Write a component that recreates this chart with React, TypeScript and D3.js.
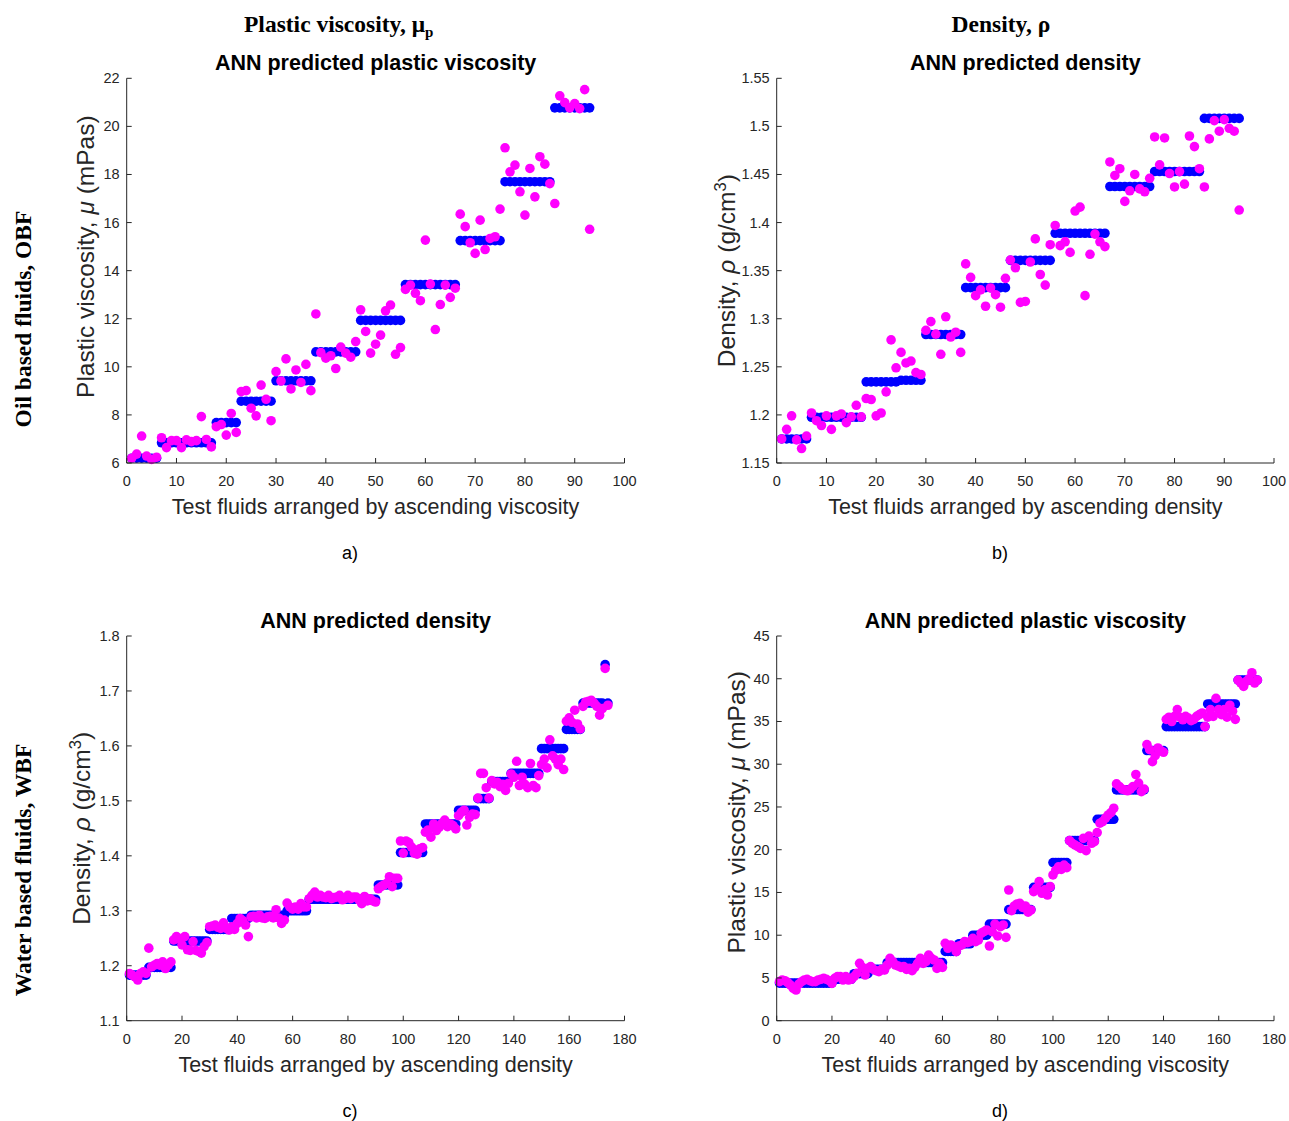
import React from 'react';
import * as d3 from 'd3';

const W = 1289;
const H = 1121;

const SANS = '"Liberation Sans", Arial, Helvetica, sans-serif';
const SERIF = '"Liberation Serif", "Times New Roman", serif';
const BLUE = '#0000ff';
const MAGENTA = '#ff00ff';
const INK = '#262626';

// a) OBF plastic viscosity (mPas), 93 test fluids
const aActual = [
  6.2, 6.2, 6.2, 6.2, 6.2, 6.2,
  6.84, 6.84, 6.84, 6.84, 6.84, 6.84, 6.84, 6.84, 6.84, 6.84, 6.84,
  7.68, 7.68, 7.68, 7.68, 7.68,
  8.57, 8.57, 8.57, 8.57, 8.57, 8.57, 8.57,
  9.42, 9.42, 9.42, 9.42, 9.42, 9.42, 9.42, 9.42,
  10.62, 10.62, 10.62, 10.62, 10.62, 10.62, 10.62, 10.62, 10.62,
  11.93, 11.93, 11.93, 11.93, 11.93, 11.93, 11.93, 11.93, 11.93,
  13.42, 13.42, 13.42, 13.42, 13.42, 13.42, 13.42, 13.42, 13.42, 13.42, 13.42,
  15.25, 15.25, 15.25, 15.25, 15.25, 15.25, 15.25, 15.25, 15.25,
  17.7, 17.7, 17.7, 17.7, 17.7, 17.7, 17.7, 17.7, 17.7, 17.7,
  20.77, 20.77, 20.77, 20.77, 20.77, 20.77, 20.77, 20.77,
];
const aPredicted = [
  6.2, 6.37, 7.12, 6.29, 6.15, 6.24, 7.05, 6.64, 6.93, 6.93,
  6.64, 6.96, 6.89, 6.93, 7.93, 6.98, 6.67, 7.51, 7.6, 7.16,
  8.06, 7.27, 8.97, 9.01, 8.28, 7.96, 9.24, 8.65, 7.76, 9.8,
  9.41, 10.33, 9.08, 9.87, 9.35, 10.1, 9.01, 12.2, 10.59, 10.36,
  10.46, 9.93, 10.82, 10.57, 10.4, 11.05, 12.37, 11.47, 10.57, 10.94,
  11.32, 12.33, 12.57, 10.52, 10.8, 13.22, 13.4, 13.06, 12.75, 15.27,
  13.44, 11.55, 12.59, 13.4, 12.89, 13.27, 16.35, 15.83, 15.16, 14.72,
  16.1, 14.88, 15.34, 15.41, 16.56, 19.11, 18.11, 18.39, 17.28, 16.31,
  18.25, 17.07, 18.74, 18.43, 17.62, 16.79, 21.27, 20.99, 20.77, 20.95,
  20.74, 21.53, 15.72,
];

// b) OBF density (g/cm3), 93 test fluids
const bActual = [
  1.175, 1.175, 1.175, 1.175, 1.175, 1.175,
  1.1975, 1.1975, 1.1975, 1.1975, 1.1975, 1.1975, 1.1975, 1.1975, 1.1975, 1.1975, 1.1975,
  1.2344, 1.2344, 1.2344, 1.2344, 1.2344, 1.2344, 1.2344, 1.236, 1.236, 1.236, 1.236, 1.236,
  1.2836, 1.2836, 1.2836, 1.2836, 1.2836, 1.2836, 1.2836, 1.2836,
  1.3323, 1.3323, 1.3323, 1.3323, 1.3323, 1.3323, 1.3323, 1.3323, 1.3323,
  1.3607, 1.3607, 1.3607, 1.3607, 1.3607, 1.3607, 1.3607, 1.3607, 1.3607,
  1.3889, 1.3889, 1.3889, 1.3889, 1.3889, 1.3889, 1.3889, 1.3889, 1.3889, 1.3889, 1.3889,
  1.4375, 1.4375, 1.4375, 1.4375, 1.4375, 1.4375, 1.4375, 1.4375, 1.4375,
  1.4531, 1.4531, 1.4531, 1.4531, 1.4531, 1.4531, 1.4531, 1.4531, 1.4531, 1.4531,
  1.5083, 1.5083, 1.5083, 1.5083, 1.5083, 1.5083, 1.5083, 1.5083,
];
const bPredicted = [
  1.175, 1.185, 1.199, 1.174, 1.165, 1.178, 1.202, 1.194, 1.189, 1.199,
  1.185, 1.199, 1.201, 1.192, 1.198, 1.21, 1.198, 1.217, 1.216, 1.199,
  1.202, 1.224, 1.278, 1.249, 1.265, 1.254, 1.256, 1.244, 1.242, 1.288,
  1.297, 1.284, 1.263, 1.302, 1.281, 1.286, 1.265, 1.357, 1.343, 1.324,
  1.33, 1.313, 1.332, 1.325, 1.312, 1.342, 1.361, 1.353, 1.317, 1.318,
  1.359, 1.383, 1.346, 1.335, 1.377, 1.397, 1.376, 1.38, 1.369, 1.412,
  1.416, 1.324, 1.367, 1.388, 1.38, 1.375, 1.463, 1.449, 1.456, 1.422,
  1.433, 1.45, 1.435, 1.432, 1.446, 1.489, 1.46, 1.488, 1.451, 1.437,
  1.453, 1.44, 1.49, 1.479, 1.456, 1.437, 1.487, 1.506, 1.495, 1.507,
  1.498, 1.495, 1.413,
];

// c) WBF density (g/cm3), 174 test fluids
const cActual = [
  1.183, 1.183, 1.183, 1.183, 1.183, 1.183, 1.183,
  1.197, 1.197, 1.197, 1.197, 1.197, 1.197, 1.197, 1.197, 1.197,
  1.245, 1.245, 1.245, 1.245, 1.245, 1.245, 1.245, 1.245, 1.245, 1.245, 1.245, 1.245, 1.245,
  1.266, 1.266, 1.266, 1.266, 1.266, 1.266, 1.266, 1.266,
  1.286, 1.286, 1.286, 1.286, 1.286, 1.286, 1.286,
  1.292, 1.292, 1.292, 1.292, 1.292, 1.292, 1.292, 1.292, 1.292, 1.292, 1.292, 1.292, 1.292,
  1.3, 1.3, 1.3, 1.3, 1.3, 1.3, 1.3, 1.3,
  1.321, 1.321, 1.321, 1.321, 1.321, 1.321, 1.321, 1.321, 1.321, 1.321, 1.321, 1.321, 1.321,
  1.321, 1.321, 1.321, 1.321, 1.321, 1.321, 1.321, 1.321, 1.321, 1.321, 1.321, 1.321,
  1.347, 1.347, 1.347, 1.347, 1.347, 1.347, 1.347, 1.347,
  1.406, 1.406, 1.406, 1.406, 1.406, 1.406, 1.406, 1.406, 1.406,
  1.458, 1.458, 1.458, 1.458, 1.458, 1.458, 1.458, 1.458, 1.458, 1.458, 1.458, 1.458,
  1.483, 1.483, 1.483, 1.483, 1.483, 1.483, 1.483,
  1.504, 1.504, 1.504, 1.504, 1.504,
  1.535, 1.535, 1.535, 1.535, 1.535, 1.535, 1.535,
  1.55, 1.55, 1.55, 1.55, 1.55, 1.55, 1.55, 1.55, 1.55, 1.55, 1.55,
  1.595, 1.595, 1.595, 1.595, 1.595, 1.595, 1.595, 1.595, 1.595,
  1.63, 1.63, 1.63, 1.63, 1.63, 1.63,
  1.678, 1.678, 1.678, 1.678, 1.678, 1.678, 1.678, 1.678,
  1.748, 1.678,
];
const cPredicted = [
  1.186, 1.183, 1.18, 1.174, 1.186, 1.189, 1.186, 1.232, 1.198, 1.201,
  1.204, 1.201, 1.207, 1.195, 1.201, 1.207, 1.247, 1.253, 1.249, 1.238,
  1.253, 1.229, 1.228, 1.244, 1.228, 1.226, 1.223, 1.235, 1.242, 1.271,
  1.272, 1.274, 1.27, 1.268, 1.278, 1.268, 1.265, 1.271, 1.266, 1.277,
  1.286, 1.282, 1.274, 1.253, 1.289, 1.29, 1.287, 1.292, 1.287, 1.286,
  1.289, 1.29, 1.287, 1.302, 1.287, 1.277, 1.283, 1.314, 1.307, 1.303,
  1.307, 1.303, 1.313, 1.307, 1.307, 1.322, 1.328, 1.334, 1.325, 1.328,
  1.325, 1.324, 1.328, 1.322, 1.324, 1.325, 1.328, 1.32, 1.322, 1.328,
  1.322, 1.325, 1.325, 1.32, 1.313, 1.326, 1.318, 1.322, 1.318, 1.316,
  1.34, 1.344, 1.347, 1.35, 1.362, 1.344, 1.359, 1.359, 1.427, 1.405,
  1.427, 1.424, 1.416, 1.405, 1.403, 1.413, 1.415, 1.443, 1.447, 1.434,
  1.458, 1.446, 1.452, 1.459, 1.465, 1.453, 1.458, 1.455, 1.449, 1.473,
  1.479, 1.483, 1.456, 1.47, 1.476, 1.475, 1.505, 1.55, 1.55, 1.524,
  1.505, 1.537, 1.531, 1.534, 1.526, 1.53, 1.519, 1.532, 1.549, 1.543,
  1.572, 1.528, 1.543, 1.53, 1.524, 1.568, 1.528, 1.524, 1.546, 1.566,
  1.576, 1.56, 1.611, 1.582, 1.576, 1.566, 1.576, 1.557, 1.645, 1.651,
  1.643, 1.665, 1.64, 1.631, 1.672, 1.68, 1.681, 1.683, 1.678, 1.672,
  1.656, 1.668, 1.741, 1.674,
];

// d) WBF plastic viscosity (mPas), 174 test fluids
const dActual = [
  4.4, 4.4, 4.4, 4.4, 4.4, 4.4, 4.4, 4.4, 4.4, 4.4,
  4.4, 4.4, 4.4, 4.4, 4.4, 4.4, 4.4, 4.4, 4.4, 4.4,
  4.85, 4.85, 4.85, 4.85, 4.85, 4.85, 4.85,
  5.5, 5.5, 5.5, 5.5, 5.5, 5.5,
  6.0, 6.0, 6.0, 6.0, 6.0, 6.0,
  6.8, 6.8, 6.8, 6.8, 6.8, 6.8, 6.8, 6.8, 6.8, 6.8, 6.8,
  6.8, 6.8, 6.8, 6.8, 6.8, 6.8, 6.8, 6.8, 6.8, 6.8,
  8.1, 8.1, 8.1, 8.1, 8.1,
  9.0, 9.0, 9.0, 9.0, 9.0,
  10.0, 10.0, 10.0, 10.0, 10.0, 10.0,
  11.3, 11.3, 11.3, 11.3, 11.3, 11.3, 11.3,
  13.0, 13.0, 13.0, 13.0, 13.0, 13.0, 13.0, 13.0, 13.0,
  15.6, 15.6, 15.6, 15.6, 15.6, 15.6, 15.6,
  18.5, 18.5, 18.5, 18.5, 18.5, 18.5,
  21.06, 21.06, 21.06, 21.06, 21.06, 21.06, 21.06, 21.06, 21.06, 21.06,
  23.56, 23.56, 23.56, 23.56, 23.56, 23.56, 23.56,
  27.0, 27.0, 27.0, 27.0, 27.0, 27.0, 27.0, 27.0, 27.0, 27.0, 27.0,
  31.6, 31.6, 31.6, 31.6, 31.6, 31.6, 31.6,
  34.4, 34.4, 34.4, 34.4, 34.4, 34.4, 34.4, 34.4, 34.4, 34.4, 34.4, 34.4, 34.4, 34.4, 34.4,
  37.05, 37.05, 37.05, 37.05, 37.05, 37.05, 37.05, 37.05, 37.05, 37.05, 37.05,
  39.85, 39.85, 39.85, 39.85, 39.85, 39.85, 39.85, 39.85,
];
const dPredicted = [
  4.56, 4.76, 4.68, 4.45, 4.17, 3.78, 3.59, 4.29, 4.56, 4.76,
  4.84, 4.68, 4.56, 4.56, 4.76, 4.84, 4.96, 4.84, 4.68, 4.37,
  4.96, 5.15, 5.15, 4.76, 5.15, 4.76, 4.84, 5.15, 5.54, 6.71,
  6.24, 5.34, 6.12, 6.32, 6.0, 5.85, 5.73, 6.0, 5.93, 6.51,
  7.29, 6.9, 6.51, 6.39, 6.24, 6.32, 6.0, 6.12, 5.85, 6.24,
  6.71, 7.29, 6.71, 6.9, 7.68, 7.29, 7.1, 6.12, 6.71, 6.24,
  9.05, 8.47, 8.86, 8.66, 8.08, 8.74, 8.86, 9.25, 9.13, 9.25,
  9.64, 9.25, 9.44, 10.22, 10.41, 10.61, 8.74, 10.41, 11.3, 9.91,
  11.0, 11.2, 9.75, 15.29, 12.87, 13.42, 13.65, 13.73, 13.26, 13.42,
  12.7, 12.95, 15.1, 15.5, 16.27, 14.9, 15.3, 14.7, 15.68, 17.05,
  17.6, 18.0, 17.7, 18.2, 17.9, 21.06, 20.75, 20.55, 20.36, 20.16,
  21.33, 19.9, 21.6, 20.75, 20.94, 22.0, 23.1, 23.3, 23.7, 24.07,
  24.35, 24.85, 27.7, 27.4, 27.1, 27.0, 26.9, 27.1, 27.4, 28.8,
  27.8, 26.8, 27.1, 32.3, 31.7, 30.3, 31.0, 31.9, 31.6, 31.4,
  35.25, 35.5, 35.0, 35.6, 36.4, 35.5, 35.2, 35.6, 35.4, 35.1,
  35.25, 35.6, 35.8, 36.0, 34.4, 35.5, 36.4, 35.6, 37.7, 36.4,
  35.8, 36.4, 35.5, 36.9, 36.2, 35.25, 39.85, 39.5, 39.1, 39.7,
  40.0, 40.7, 39.5, 39.85,
];

const obfXTicks = d3.range(0, 101, 10);
const wbfXTicks = d3.range(0, 181, 20);
const aYTicks = d3.range(6, 22.1, 2);
const bYTicks = [1.15, 1.2, 1.25, 1.3, 1.35, 1.4, 1.45, 1.5, 1.55];
const cYTicks = [1.1, 1.2, 1.3, 1.4, 1.5, 1.6, 1.7, 1.8];
const dYTicks = d3.range(0, 46, 5);

type Box = { left: number; right: number; top: number; bottom: number };

type PanelProps = {
  box: Box;
  xMax: number;
  xTicks: number[];
  yDomain: [number, number];
  yTicks: number[];
  actual: number[];
  predicted: number[];
  title: string;
  xLabel: string;
  yLabel: React.ReactNode;
  yLabelX: number;
  yLabelShift?: number;
  caption: string;
  captionX: number;
};

function Panel(p: PanelProps) {
  const { left, right, top, bottom } = p.box;
  const x = d3.scaleLinear().domain([0, p.xMax]).range([left, right]);
  const y = d3.scaleLinear().domain(p.yDomain).range([bottom, top]);
  const cx = (left + right) / 2;
  const cy = (top + bottom) / 2 + (p.yLabelShift || 0);
  const r = 4.8;
  const tick = 5;

  return (
    <g>
      {/* measured values */}
      {p.actual.map((v, i) => (
        <circle key={'a' + i} cx={x(i + 1)} cy={y(v)} r={r} fill={BLUE} />
      ))}
      {/* ANN predictions */}
      {p.predicted.map((v, i) => (
        <circle key={'p' + i} cx={x(i + 1)} cy={y(v)} r={r} fill={MAGENTA} />
      ))}

      {/* axes, box off, ticks inward */}
      <line x1={left} x2={right} y1={bottom} y2={bottom} stroke={INK} strokeWidth={1} />
      <line x1={left} x2={left} y1={top} y2={bottom} stroke={INK} strokeWidth={1} />
      {p.xTicks.map((t) => (
        <g key={'xt' + t}>
          <line x1={x(t)} x2={x(t)} y1={bottom} y2={bottom - tick} stroke={INK} />
          <text x={x(t)} y={bottom + 23} textAnchor="middle" fontSize={14.5} fill={INK} fontFamily={SANS}>
            {t}
          </text>
        </g>
      ))}
      {p.yTicks.map((t) => (
        <g key={'yt' + t}>
          <line x1={left} x2={left + tick} y1={y(t)} y2={y(t)} stroke={INK} />
          <text x={left - 7} y={y(t) + 5} textAnchor="end" fontSize={14.5} fill={INK} fontFamily={SANS}>
            {t}
          </text>
        </g>
      ))}

      <text x={cx} y={top - 8} textAnchor="middle" fontSize={21.5} fontWeight="bold" fill="#000" fontFamily={SANS}>
        {p.title}
      </text>
      <text x={cx} y={bottom + 51} textAnchor="middle" fontSize={21.5} fill={INK} fontFamily={SANS}>
        {p.xLabel}
      </text>
      <text
        transform={`translate(${p.yLabelX},${cy}) rotate(-90)`}
        textAnchor="middle"
        fontSize={24.5}
        fill={INK}
        fontFamily={SANS}
      >
        {p.yLabel}
      </text>
      <text x={p.captionX} y={bottom + 96} textAnchor="middle" fontSize={18} fill="#000" fontFamily={SANS}>
        {p.caption}
      </text>
    </g>
  );
}

const pvLabel = (
  <>
    Plastic viscosity, <tspan fontStyle="italic">μ</tspan> (mPas)
  </>
);
const rhoLabel = (
  <>
    Density, <tspan fontStyle="italic">ρ</tspan> (g/cm<tspan dy={-9} fontSize={16.5}>3</tspan>
    <tspan dy={9}>)</tspan>
  </>
);

export default function App() {
  const topRow = { top: 78.3, bottom: 463 };
  const botRow = { top: 636, bottom: 1020.7 };
  const leftCol = { left: 126.7, right: 624.5 };
  const rightCol = { left: 776.7, right: 1274 };

  return (
    <svg
      width={W}
      height={H}
      viewBox={`0 0 ${W} ${H}`}
      style={{ position: 'absolute', left: 0, top: 0, display: 'block', background: '#fff' }}
    >
      <rect width={W} height={H} fill="#fff" />

      <text x={244} y={32} textAnchor="start" fontSize={23.5} fontWeight="bold" fontFamily={SERIF} fill="#000">
        Plastic viscosity, μ<tspan dy={5} fontSize={15}>p</tspan>
      </text>
      <text x={1001} y={32} textAnchor="middle" fontSize={23.5} fontWeight="bold" fontFamily={SERIF} fill="#000">
        Density, ρ
      </text>
      <text
        transform="translate(31,319) rotate(-90)"
        textAnchor="middle"
        fontSize={23.5}
        fontWeight="bold"
        fontFamily={SERIF}
        fill="#000"
      >
        Oil based fluids, OBF
      </text>
      <text
        transform="translate(31,870) rotate(-90)"
        textAnchor="middle"
        fontSize={23.5}
        fontWeight="bold"
        fontFamily={SERIF}
        fill="#000"
      >
        Water based fluids, WBF
      </text>

      <Panel
        box={{ ...leftCol, ...topRow }}
        xMax={100}
        xTicks={obfXTicks}
        yDomain={[6, 22]}
        yTicks={aYTicks}
        actual={aActual}
        predicted={aPredicted}
        title="ANN predicted plastic viscosity"
        xLabel="Test fluids arranged by ascending viscosity"
        yLabel={pvLabel}
        yLabelX={94}
        yLabelShift={-14}
        caption="a)"
        captionX={350}
      />
      <Panel
        box={{ ...rightCol, ...topRow }}
        xMax={100}
        xTicks={obfXTicks}
        yDomain={[1.15, 1.55]}
        yTicks={bYTicks}
        actual={bActual}
        predicted={bPredicted}
        title="ANN predicted density"
        xLabel="Test fluids arranged by ascending density"
        yLabel={rhoLabel}
        yLabelX={735}
        caption="b)"
        captionX={1000}
      />
      <Panel
        box={{ ...leftCol, ...botRow }}
        xMax={180}
        xTicks={wbfXTicks}
        yDomain={[1.1, 1.8]}
        yTicks={cYTicks}
        actual={cActual}
        predicted={cPredicted}
        title="ANN predicted density"
        xLabel="Test fluids arranged by ascending density"
        yLabel={rhoLabel}
        yLabelX={90}
        caption="c)"
        captionX={350}
      />
      <Panel
        box={{ ...rightCol, ...botRow }}
        xMax={180}
        xTicks={wbfXTicks}
        yDomain={[0, 45]}
        yTicks={dYTicks}
        actual={dActual}
        predicted={dPredicted}
        title="ANN predicted plastic viscosity"
        xLabel="Test fluids arranged by ascending viscosity"
        yLabel={pvLabel}
        yLabelX={745}
        yLabelShift={-16}
        caption="d)"
        captionX={1000}
      />
    </svg>
  );
}
